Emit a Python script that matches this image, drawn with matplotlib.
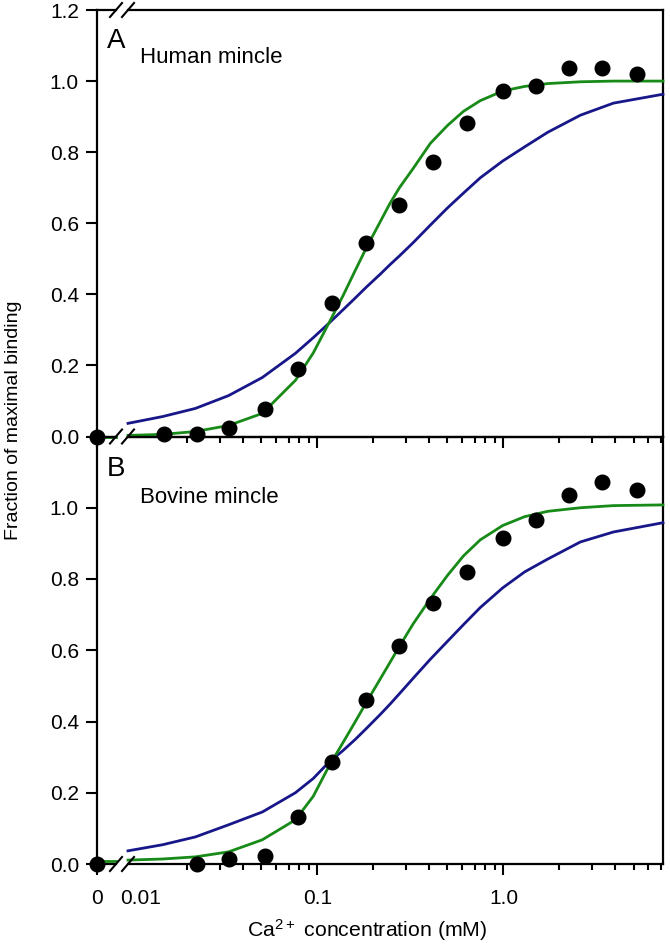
import matplotlib.pyplot as plt
from matplotlib.lines import Line2D
from matplotlib.ticker import FixedLocator, NullFormatter

plt.rcParams['font.family'] = ['Liberation Sans', 'DejaVu Sans']
plt.rcParams['mathtext.default'] = 'regular'

# measured points (mM, fraction)
conc_a = [0.0150, 0.0226, 0.0336, 0.0525, 0.079, 0.120, 0.183, 0.276, 0.420,
          0.639, 0.99, 1.49, 2.26, 3.40, 5.19]
frac_a = [0.008, 0.006, 0.023, 0.076, 0.19, 0.375, 0.544, 0.651, 0.772,
          0.882, 0.972, 0.986, 1.037, 1.037, 1.020]
conc_b = [0.0226, 0.0336, 0.0525, 0.079, 0.120, 0.183, 0.276, 0.420,
          0.639, 0.99, 1.49, 2.26, 3.40, 5.19]
frac_b = [0.0, 0.014, 0.023, 0.132, 0.287, 0.459, 0.611, 0.732,
          0.82, 0.915, 0.966, 1.037, 1.073, 1.051]
zero_frac_a = 0.0
zero_frac_b = 0.0

# fitted curves
fit_x = [0.0096, 0.0147, 0.0221, 0.0333, 0.0506, 0.0762, 0.095, 0.115, 0.137,
         0.160, 0.183, 0.218, 0.245, 0.276, 0.328, 0.405, 0.50, 0.61, 0.751,
         0.99, 1.3, 1.73, 2.59, 3.90, 7.2]
green_a = [0.003, 0.006, 0.014, 0.031, 0.065, 0.158, 0.235, 0.318, 0.395,
           0.468, 0.53, 0.605, 0.655, 0.70, 0.755, 0.825, 0.875, 0.915, 0.945,
           0.972, 0.985, 0.993, 0.998, 1.0, 1.0]
blue_a = [0.037, 0.056, 0.079, 0.115, 0.166, 0.234, 0.278, 0.318, 0.356,
          0.39, 0.42, 0.457, 0.483, 0.508, 0.546, 0.595, 0.643, 0.685, 0.728,
          0.775, 0.815, 0.856, 0.904, 0.938, 0.963]
green_b = [0.011, 0.014, 0.02, 0.034, 0.068, 0.124, 0.19, 0.273, 0.34,
           0.40, 0.453, 0.52, 0.565, 0.611, 0.675, 0.745, 0.81, 0.865, 0.91,
           0.95, 0.975, 0.99, 1.0, 1.006, 1.008]
blue_b = [0.037, 0.054, 0.076, 0.11, 0.146, 0.2, 0.24, 0.285, 0.318,
          0.35, 0.38, 0.42, 0.448, 0.478, 0.522, 0.575, 0.625, 0.672, 0.72,
          0.775, 0.82, 0.856, 0.904, 0.932, 0.958]
green_zero_a = 0.0
green_zero_b = 0.008

panels = [('A', 'Human mincle', conc_a, frac_a, zero_frac_a, green_a, blue_a, green_zero_a),
          ('B', 'Bovine mincle', conc_b, frac_b, zero_frac_b, green_b, blue_b, green_zero_b)]

GREEN = '#178a17'
BLUE = '#17178a'

W, H = 670, 951
fig = plt.figure(figsize=(W / 100, H / 100), dpi=100)

def box(x0, x1, y0, y1):
    return [x0 / W, 1 - y1 / H, (x1 - x0) / W, (y1 - y0) / H]

X0, XB, XM, XR = 97, 116, 128, 663      # left spine, end of zero part, start of log part, right
rows = [(10, 436.5), (436.5, 864)]
label_off = [(38, 53), (40, 66)]         # baselines of letter / name below panel top

for i, (letter, name, cx, cy, z, g, b, gz) in enumerate(panels):
    top, bot = rows[i]
    ax0 = fig.add_axes(box(X0, XB, top, bot))
    ax = fig.add_axes(box(XM, XR, top, bot))
    for a in (ax0, ax):
        a.set_ylim(0, 1.2)
        a.patch.set_alpha(0)
        for s in a.spines.values():
            s.set_linewidth(1.6)
        a.tick_params(which='major', direction='out', length=8, width=1.5,
                      labelsize=15, pad=10)
        a.tick_params(which='minor', direction='out', length=4.5, width=1.5)

    ax0.set_xlim(0, 1)
    ax0.spines['right'].set_visible(False)
    ax0.set_xticks([0])
    ax.spines['left'].set_visible(False)
    ax.tick_params(axis='y', left=False, labelleft=False)
    ax.set_xscale('log')
    ax.set_xlim(0.0096, 7.2)

    if i == 0:
        ax0.set_yticks([0, 0.2, 0.4, 0.6, 0.8, 1.0, 1.2])
    else:
        ax0.set_yticks([0, 0.2, 0.4, 0.6, 0.8, 1.0])
    ax0.yaxis.set_major_formatter(plt.FuncFormatter(lambda v, p: f'{v:.1f}'))
    ax0.tick_params(axis='y', pad=5)

    ax.xaxis.set_major_locator(FixedLocator([0.0112, 0.1, 1.0]))
    ax.xaxis.set_minor_locator(FixedLocator(
        [0.02, 0.03, 0.04, 0.05, 0.06, 0.07, 0.08, 0.09,
         0.2, 0.3, 0.4, 0.5, 0.6, 0.7, 0.8, 0.9, 2, 3, 4, 5, 6, 7]))
    ax.xaxis.set_minor_formatter(NullFormatter())
    ax.xaxis.get_major_ticks()[0].tick1line.set_visible(False)
    if i == 1:
        ax.set_xticklabels(['0.01', '0.1', '1.0'])
        ax0.set_xticklabels(['0'])
    else:
        ax.set_xticklabels(['', '', ''])
        ax0.set_xticklabels([''])

    ax.plot(fit_x, b, color=BLUE, lw=2.0, clip_on=False, zorder=3)
    ax.plot(fit_x, g, color=GREEN, lw=2.0, clip_on=False, zorder=4)
    ax0.plot([0, 1], [gz, gz], color=GREEN, lw=2.0, clip_on=False, zorder=4)
    ax.plot(cx, cy, 'o', color='black', ms=10.5, clip_on=False, zorder=5)
    ax0.plot([0], [z], 'o', color='black', ms=10.5, clip_on=False, zorder=5)

    lo, no = label_off[i]
    fig.text(107 / W, 1 - (top + lo) / H, letter, fontsize=20, ha='left', va='baseline')
    fig.text(140 / W, 1 - (top + no) / H, name, fontsize=16, ha='left', va='baseline')

# break marks on the x axis lines
for yy in (10, 436.5, 864):
    for xc in (XB, XM):
        fig.add_artist(Line2D([(xc - 6) / W, (xc + 6) / W],
                              [1 - (yy + 7) / H, 1 - (yy - 7) / H],
                              transform=fig.transFigure, color='black', lw=1.5))

fig.text(14 / W, 1 - 420 / H, 'Fraction of maximal binding', rotation=90,
         ha='center', va='center', fontsize=14)
fig.text(367 / W, 1 - 930 / H, 'Ca$^{2+}$ concentration (mM)', ha='center',
         va='center', fontsize=15.3)

fig.savefig('out.png', dpi=100)
